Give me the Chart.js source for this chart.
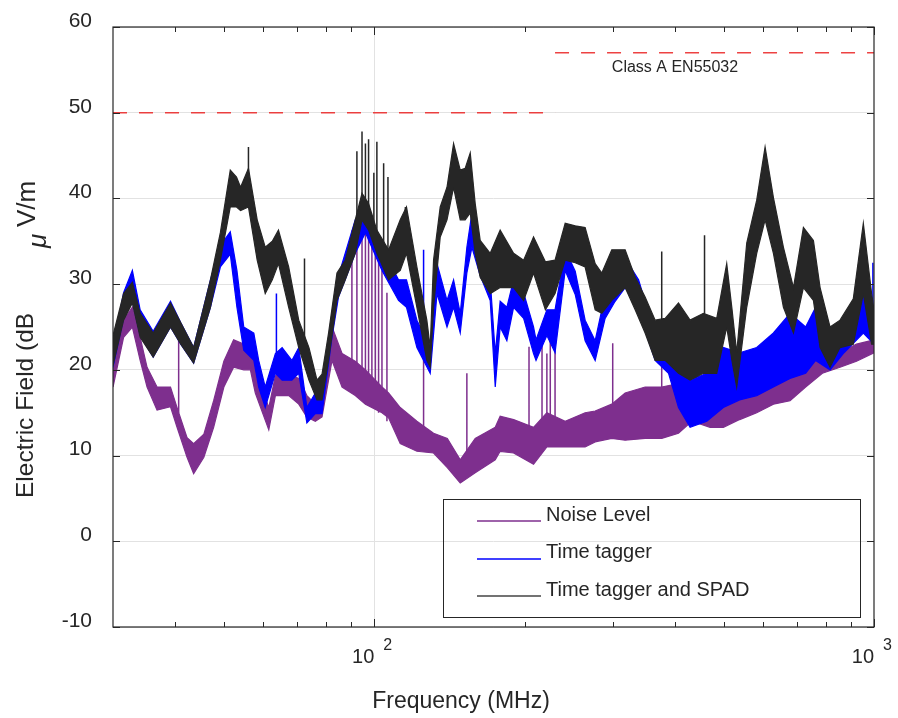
<!DOCTYPE html>
<html lang="en">
<head>
<meta charset="UTF-8">
<title>Radiated emission scan</title>
<script src="https://cdn.jsdelivr.net/npm/chart.js"></script>
<style>
  html, body { margin: 0; padding: 0; background: #fff; }
  #wrap { width: 898px; height: 718px; }
</style>
</head>
<body>
<div id="wrap"><canvas id="emiChart" width="898" height="718"></canvas></div>
<script>
// values: frequency in MHz, field in dB uV/m
// each trace is a noisy band, kept as its upper and lower edge, plus narrow spikes
const seriesNames = ['Noise Level', 'Time tagger', 'Time tagger and SPAD'];
const seriesColors = ['#7e2f8e', '#0000ff', '#262626'];

const noiseFreq = [30, 31.5, 32.8, 34, 35.1, 36.75, 39.1, 40.3, 42.2, 43.5, 45.6, 47.7, 50, 52.3, 54.8, 56.5, 57.8, 61.5, 63.4, 67.4, 70.6, 73.3, 76.2, 78.6, 82.3, 86.2, 91.6, 96, 103.6, 106.8, 112.7, 121.7, 131.4, 140, 148.6, 159.2, 174.6, 178.6, 190, 208.3, 221.5, 241, 264.2, 276.7, 298.7, 317.7, 348.3, 376, 406.2, 432, 469.9, 499.5, 538.5, 582.5, 629.1, 679.2, 729.8, 788.3, 855.1, 922.6, 1000];
const noiseHi = [20, 25.8, 27.3, 23.8, 20.3, 18, 18, 15.6, 12.1, 11.4, 12.5, 16.4, 21, 23.5, 23, 23, 20.3, 15.6, 19.3, 19.5, 19, 17, 16, 17, 25, 21.9, 21, 20, 18, 17.3, 15.6, 14, 12.6, 12, 9.5, 12, 13.3, 14.6, 14.2, 13.3, 15, 14, 15, 15.2, 16, 17.3, 18, 18, 18.4, 17.3, 16.4, 16.5, 17.3, 17.3, 18.8, 19.6, 20.3, 22, 22, 23, 23.5];
const noiseLo = [18, 23.8, 25, 21.1, 18, 15.3, 15.7, 13.3, 9.8, 7.9, 9.8, 13.3, 18, 20.3, 20, 20, 17.3, 13, 17, 17, 16, 14.5, 14, 14.5, 21.1, 18, 17, 16, 15, 14.4, 11.4, 10.5, 10.3, 8.6, 6.8, 8, 9.5, 10.5, 10.3, 9, 11, 11, 11, 11.6, 12, 11.8, 12, 12, 12.6, 14, 13.3, 13.3, 14.2, 15, 16, 16.4, 18, 19.6, 20.3, 21, 22];
const noiseSpikeFreq = [40.6, 90.2, 92.3, 94.5, 96, 97.4, 98.9, 100.5, 102, 103.6, 106, 125.5, 153.2, 204, 216.6, 221.5, 225, 230, 300, 376];
const noiseSpikeBase = [15, 18, 18, 17, 17, 16, 16, 16, 15, 15, 14, 12, 8, 12, 12, 12, 12, 11, 13, 14];
const noiseSpikeTop = [23.5, 36.3, 36.6, 36.5, 36.6, 36.3, 36, 35.5, 34, 31.6, 29, 22.3, 19.6, 22.7, 24.3, 21.9, 24.3, 22.3, 23.1, 22];

const tagFreq = [30, 31.5, 32.8, 34, 36.1, 39.1, 41, 43.5, 47, 49.2, 51.5, 53.1, 54.8, 57.4, 58.7, 60.5, 63.4, 65.4, 68.4, 70.6, 73.3, 76.2, 78.6, 82.3, 84.8, 91.6, 96, 103.6, 111.8, 116, 121.7, 129.4, 133.5, 139.8, 144.1, 148.6, 153.2, 156.8, 162.9, 170.6, 174.6, 178.6, 184.2, 190, 199, 208.3, 210.7, 221.5, 230, 241, 252.4, 264.2, 276.7, 289.7, 303.4, 317.7, 338, 354, 364.8, 388, 406.2, 428.5, 462.8, 499.5, 538.5, 582.5, 629.1, 679.2, 729.8, 764.2, 816.6, 871, 952, 1000];
const tagHi = [22.6, 29, 31.6, 27, 24.5, 28, 25.5, 22.6, 30.5, 34.5, 36.1, 31.6, 25, 24.3, 21.1, 18, 21.9, 22.6, 21.1, 22.6, 15.6, 17.3, 17.3, 26.6, 31, 37.5, 39, 34.3, 30.5, 30.5, 25.8, 22.6, 32.4, 28.1, 30.5, 26.6, 34.3, 38.3, 33.6, 30.5, 21.9, 28, 27.3, 30.5, 29, 25, 23.5, 27, 27, 34, 31.5, 25.8, 23.4, 28.8, 31, 33, 30.5, 26.6, 22.6, 22, 20.3, 18.8, 19.6, 22.6, 22, 22.6, 24.3, 26.6, 25, 27.3, 24.3, 25, 29.6, 27];
const tagLo = [20.3, 26, 28, 24, 21.5, 25, 23, 20.8, 27.3, 32, 33.5, 27.3, 22.3, 21.1, 18, 15.6, 19.6, 18.8, 18.8, 19.6, 13.8, 14.9, 14.9, 23.8, 28.5, 33.6, 36, 31.6, 28.1, 27.3, 22.6, 19.6, 28.9, 25, 27.3, 24.3, 31.3, 34.3, 31, 28.1, 18, 25, 23.4, 27.3, 26, 21.9, 21.1, 24, 22, 31.6, 28.8, 23.4, 21.1, 26, 28, 29.6, 27.3, 23.4, 21.1, 19.6, 15.6, 13.3, 14, 15.6, 16.5, 17, 18, 19, 19.6, 21.1, 20, 22, 24.3, 23];
const tagSpikeFreq = [63.7, 125.5, 995];
const tagSpikeBase = [21, 23, 26];
const tagSpikeTop = [28.9, 34, 32.5];

const spadFreq = [30, 31.5, 32.8, 34, 36.1, 39.1, 41, 43.5, 47, 49.2, 51.5, 53, 54, 56, 58.3, 60.5, 62.5, 64.3, 67.4, 70.6, 74, 76.8, 78.6, 81, 84.2, 87.5, 91.6, 94.5, 97.4, 101.2, 106.8, 112.7, 116, 121.7, 127.4, 129.4, 131.4, 135.5, 139.8, 144.1, 148.6, 152, 155.6, 159.2, 162.9, 170.6, 178.6, 190, 199, 208.3, 220, 230, 241, 252.4, 264.2, 276.7, 285.3, 298.7, 317.7, 332.7, 348.3, 364.8, 382, 406.2, 428.5, 455.6, 484.5, 507.3, 520, 531.2, 556.3, 582.5, 605.4, 629.1, 658.8, 690, 722.3, 756.4, 780, 816.6, 855.1, 909, 952, 989, 1000];
const spadHi = [24, 28.9, 30.2, 26.6, 24.3, 27.8, 25.5, 22.6, 30.5, 36, 43.3, 42.5, 41.3, 43.5, 37.5, 34.3, 35, 36.3, 32, 25.8, 22.6, 18.8, 19.5, 24.3, 31.3, 32.8, 37.5, 40.6, 39.4, 36.3, 34, 37.5, 39, 32, 25.8, 22.6, 32.8, 39, 41.3, 46.4, 43.3, 43.5, 45.3, 39.4, 35.1, 33.6, 36.3, 33.6, 32.8, 35.5, 32.6, 32.8, 37.1, 36.8, 36.6, 32.4, 31.3, 34, 34, 30.8, 28.5, 25.8, 26, 27.8, 25.8, 26.6, 26, 32.4, 27, 22, 34.8, 39.8, 46, 40.1, 34.3, 29.6, 36.6, 35.1, 29.6, 25, 25.8, 28.3, 37.1, 28.9, 27];
const spadLo = [20.5, 25.8, 27.8, 23.8, 21.5, 25, 23, 20.8, 27.3, 32.8, 39, 39, 38.6, 39, 32.8, 28.9, 30.5, 32.4, 27.3, 22.6, 18.8, 16.5, 16.5, 21.1, 28.1, 30.5, 33.6, 37.5, 36.3, 33.6, 30.5, 31.6, 33.6, 27.3, 21.1, 20.3, 27.3, 35.5, 37.5, 41.3, 37.5, 37.5, 38.3, 33.6, 30.8, 28.9, 29.6, 29.6, 28.1, 31.3, 27, 28.9, 32.8, 32.5, 32, 27, 26.6, 28.1, 29.6, 27, 24.3, 21.1, 21.1, 19.6, 18.8, 19.6, 19.6, 25, 21, 18, 27.3, 33.6, 37.5, 33.6, 27.3, 24.3, 29.6, 28.1, 22.6, 20.3, 22.6, 23, 28.9, 23, 23];
const spadSpikeFreq = [56, 72.5, 92.3, 94.5, 96, 97.4, 99.8, 101.2, 104.4, 106.5, 115.4, 376, 458];
const spadSpikeBase = [40, 22, 36, 38, 37, 37, 35, 35, 33, 32, 34, 24, 24];
const spadSpikeTop = [46, 33, 45.5, 47.8, 46.4, 46.9, 43, 46.6, 44.1, 42.5, 39, 33.8, 35.7];

// Class A EN55032 limit: 50 below 230 MHz, 57 above
const limitFreq = [30, 230, 1000];
const limitLevel = [50, 57];
const limitLabel = 'Class A EN55032';

const yTicks = [-10, 0, 10, 20, 30, 40, 50, 60];
const xMajorTicks = [100, 1000];
const xMinorTicks = [40, 50, 60, 70, 80, 90, 200, 300, 400, 500, 600, 700, 800, 900];

const FONT = "'Liberation Sans', Arial, Helvetica, sans-serif";
const INK = '#262626';

function band(label, freq, hi, lo, color, order) {
    return [
        {
            label: label,
            data: freq.map((f, i) => ({ x: f, y: hi[i] })),
            borderColor: color,
            backgroundColor: color,
            borderWidth: 1.2,
            pointRadius: 0,
            fill: '+1',
            order: order
        },
        {
            label: label + ' low',
            data: freq.map((f, i) => ({ x: f, y: lo[i] })),
            borderColor: color,
            borderWidth: 1.2,
            pointRadius: 0,
            fill: false,
            order: order
        }
    ];
}

function spikes(label, freq, base, top, color, order) {
    const pts = [];
    freq.forEach((f, i) => {
        pts.push({ x: f, y: base[i] }, { x: f, y: top[i] }, { x: f, y: null });
    });
    return {
        label: label + ' spikes',
        data: pts,
        borderColor: color,
        borderWidth: 1.5,
        pointRadius: 0,
        fill: false,
        spanGaps: false,
        order: order
    };
}

const limitStyle = {
    borderColor: 'rgba(235, 45, 45, 0.9)',
    borderWidth: 1.5,
    borderDash: [14, 12],
    pointRadius: 0,
    fill: false,
    order: 0
};

// plotted in legend order: SPAD trace ends up on top, noise at the bottom
const datasets = [
    ...band(seriesNames[0], noiseFreq, noiseHi, noiseLo, seriesColors[0], 3),
    spikes(seriesNames[0], noiseSpikeFreq, noiseSpikeBase, noiseSpikeTop, seriesColors[0], 3),
    ...band(seriesNames[1], tagFreq, tagHi, tagLo, seriesColors[1], 2),
    spikes(seriesNames[1], tagSpikeFreq, tagSpikeBase, tagSpikeTop, seriesColors[1], 2),
    ...band(seriesNames[2], spadFreq, spadHi, spadLo, seriesColors[2], 1),
    spikes(seriesNames[2], spadSpikeFreq, spadSpikeBase, spadSpikeTop, seriesColors[2], 1),
    Object.assign({ label: limitLabel + ' low', data: [{ x: limitFreq[0], y: limitLevel[0] }, { x: limitFreq[1], y: limitLevel[0] }] }, limitStyle),
    Object.assign({ label: limitLabel + ' high', data: [{ x: limitFreq[1], y: limitLevel[1] }, { x: limitFreq[2], y: limitLevel[1] }] }, limitStyle)
];

// MATLAB-like decorations: box, inward ticks, 10^n labels, axis titles, legend
const decorations = {
    id: 'decorations',
    afterDraw(chart) {
        const ctx = chart.ctx;
        const ca = chart.chartArea;
        const xs = chart.scales.x;
        const ys = chart.scales.y;
        ctx.save();

        // box
        ctx.strokeStyle = INK;
        ctx.lineWidth = 1.2;
        ctx.strokeRect(ca.left, ca.top, ca.right - ca.left, ca.bottom - ca.top);

        // inward ticks
        ctx.lineWidth = 1;
        ctx.beginPath();
        xMinorTicks.forEach(v => {
            const px = Math.round(xs.getPixelForValue(v)) + 0.5;
            ctx.moveTo(px, ca.bottom); ctx.lineTo(px, ca.bottom - 5);
            ctx.moveTo(px, ca.top); ctx.lineTo(px, ca.top + 5);
        });
        xMajorTicks.forEach(v => {
            const px = Math.round(xs.getPixelForValue(v)) + 0.5;
            ctx.moveTo(px, ca.bottom); ctx.lineTo(px, ca.bottom - 8);
            ctx.moveTo(px, ca.top); ctx.lineTo(px, ca.top + 8);
        });
        yTicks.forEach(v => {
            const py = Math.round(ys.getPixelForValue(v)) + 0.5;
            ctx.moveTo(ca.left, py); ctx.lineTo(ca.left + 7, py);
            ctx.moveTo(ca.right, py); ctx.lineTo(ca.right - 7, py);
        });
        ctx.stroke();

        // x tick labels as 10^n
        ctx.fillStyle = INK;
        ctx.textBaseline = 'middle';
        xMajorTicks.forEach(v => {
            const px = xs.getPixelForValue(v);
            ctx.font = '20px ' + FONT;
            ctx.textAlign = 'right';
            ctx.fillText('10', px, ca.bottom + 30);
            ctx.font = '16px ' + FONT;
            ctx.textAlign = 'left';
            ctx.fillText(String(Math.round(Math.log10(v))), px + 9, ca.bottom + 19);
        });

        // x title
        ctx.font = '23px ' + FONT;
        ctx.textAlign = 'center';
        ctx.textBaseline = 'alphabetic';
        ctx.fillText('Frequency (MHz)', ca.left + 348, ca.bottom + 81);

        // y title, rotated, with the odd mu placement of the original
        ctx.save();
        ctx.translate(ca.left - 80, ca.top + 471);
        ctx.rotate(-Math.PI / 2);
        ctx.textAlign = 'left';
        ctx.font = '24.5px ' + FONT;
        ctx.fillText('Electric Field (dB', 0, 0);
        ctx.font = 'italic 26px ' + FONT;
        ctx.fillText('\u03bc', 250, 13);
        ctx.font = '26px ' + FONT;
        ctx.fillText('V/m', 271, 2);
        ctx.restore();

        // limit label
        ctx.font = '16px ' + FONT;
        ctx.textAlign = 'center';
        ctx.textBaseline = 'middle';
        ctx.fillText(limitLabel, ca.left + 562, ys.getPixelForValue(limitLevel[1]) + 15);

        // legend
        const lx = Math.round(ca.left + 330), ly = Math.round(ca.top + 472), lw = 417, lh = 118;
        ctx.strokeStyle = INK;
        ctx.lineWidth = 1;
        ctx.strokeRect(lx + 0.5, ly + 0.5, lw, lh);
        ctx.font = '20px ' + FONT;
        ctx.textAlign = 'left';
        seriesNames.forEach((name, i) => {
            const cy = ly + 16 + i * 37.5;
            const lineY = Math.round(cy + 6);
            ctx.lineWidth = 1.5;
            ctx.strokeStyle = i === 2 ? '#444444' : seriesColors[i];
            ctx.beginPath();
            ctx.moveTo(lx + 34, lineY);
            ctx.lineTo(lx + 98, lineY);
            ctx.stroke();
            ctx.fillStyle = INK;
            ctx.fillText(name, lx + 103, cy);
        });

        ctx.restore();
    }
};

new Chart(document.getElementById('emiChart'), {
    type: 'line',
    data: { datasets: datasets },
    options: {
        responsive: false,
        animation: false,
        devicePixelRatio: 1,
        layout: { padding: { top: 27, right: 24, left: 0, bottom: 0 } },
        plugins: {
            legend: { display: false },
            tooltip: { enabled: false }
        },
        scales: {
            x: {
                type: 'logarithmic',
                min: limitFreq[0],
                max: limitFreq[2],
                border: { display: false },
                grid: {
                    drawTicks: false,
                    color: c => (c.tick && c.tick.value === xMajorTicks[0]) ? '#e2e2e2' : 'rgba(0,0,0,0)'
                },
                ticks: { display: false },
                afterFit: s => { s.height = 91; }
            },
            y: {
                min: yTicks[0],
                max: yTicks[yTicks.length - 1],
                border: { display: false },
                grid: { drawTicks: false, color: '#e2e2e2' },
                ticks: {
                    stepSize: 10,
                    padding: 21,
                    labelOffset: -6,
                    color: INK,
                    font: { family: FONT, size: 21 }
                },
                afterFit: s => {
                    s.width = 113;
                    s.paddingTop = 0;
                    s.paddingBottom = 0;
                }
            }
        }
    },
    plugins: [decorations]
});
</script>
</body>
</html>
